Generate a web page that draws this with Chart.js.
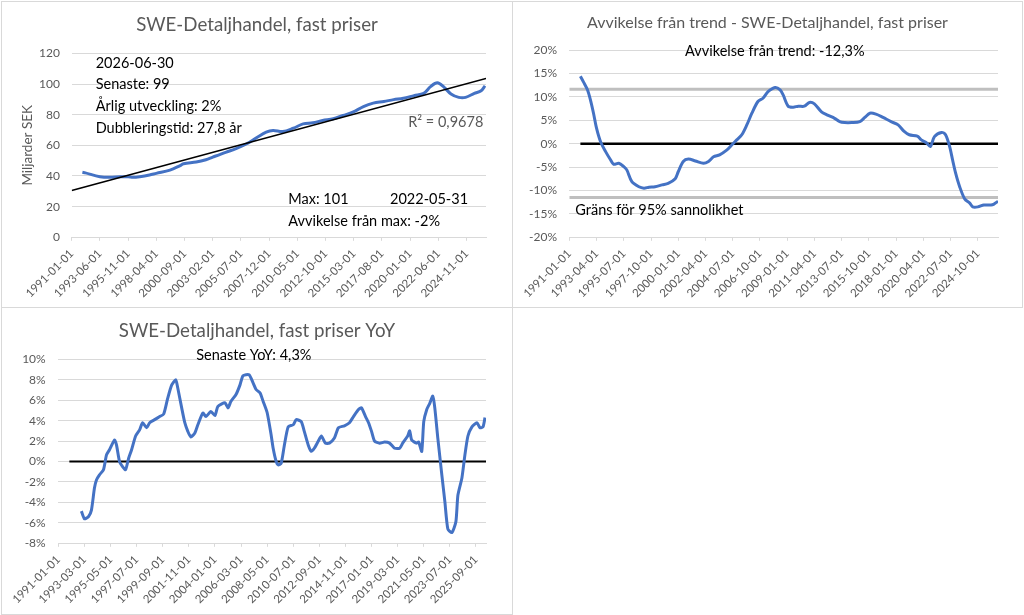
<!DOCTYPE html>
<html>
<head>
<meta charset="utf-8">
<title>SWE-Detaljhandel, fast priser</title>
<script src="https://cdn.jsdelivr.net/npm/chart.js@4.4.1/dist/chart.umd.min.js"></script>
<style>
  html, body { margin: 0; padding: 0; background: #fff; }
  body { width: 1024px; height: 615px; position: relative; overflow: hidden; }
  .box { position: absolute; border: 1px solid #d9d9d9; box-sizing: border-box; background: #fff; }
  .box canvas { display: block; }
</style>
</head>
<body>
<div class="box" style="left:1px;top:1px;width:512px;height:307px"><canvas id="levelChart" width="510" height="305"></canvas></div>
<div class="box" style="left:512px;top:1px;width:511px;height:307px"><canvas id="trendChart" width="509" height="305"></canvas></div>
<div class="box" style="left:1px;top:307px;width:512px;height:308px"><canvas id="yoyChart" width="510" height="306"></canvas></div>
<script>
// Level, Miljarder SEK
const levelDates = ['1991-12','1992-03','1993-06','1994-04','1995-03','1995-11','1996-04','1996-11',
  '1997-09','1998-04','1999-06','2000-04','2000-08','2001-09','2002-07','2003-02','2004-04','2005-02',
  '2006-01','2006-11','2007-09','2008-04','2009-02','2010-01','2010-11','2011-09','2012-07','2013-06',
  '2014-04','2015-02','2016-01','2016-11','2017-10','2018-08','2019-06','2020-05','2021-03','2021-10',
  '2022-05','2022-12','2023-07','2024-03','2024-10','2025-07','2026-02','2026-06'];
const levelValues = [42.4, 42.0, 39.5, 39.1, 39.5, 39.5, 39.1, 39.5,
  40.6, 41.7, 43.8, 46.6, 48.0, 49.1, 50.6, 52.3, 55.6, 57.8,
  61.0, 64.9, 68.6, 69.7, 69.0, 71.2, 74.0, 74.7, 76.2, 77.3,
  79.5, 81.6, 85.3, 87.5, 88.6, 89.8, 90.7, 92.4, 93.9, 98.3,
  100.8, 97.8, 93.5, 91.3, 91.3, 93.9, 95.6, 98.8];
const trendDates = ['1991-01', '2026-07'];
const trendValues = [30.5, 103.6];

// Avvikelse från trend, %
const devDates = ['1991-12','1992-03','1992-07','1992-10','1993-01','1993-04','1993-08','1994-01',
  '1994-06','1994-09','1995-02','1995-07','1995-10','1996-03','1996-10','1997-03','1997-08','1998-02',
  '1998-09','1999-03','1999-10','2000-01','2000-06','2000-11','2001-06','2002-02','2002-07','2002-12',
  '2003-06','2004-01','2004-06','2004-11','2005-04','2005-09','2006-02','2006-08','2007-01','2007-06',
  '2008-01','2008-06','2008-09','2009-02','2009-07','2009-12','2010-06','2010-11','2011-04','2011-11',
  '2012-05','2012-12','2013-05','2013-10','2014-05','2015-01','2015-06','2015-11','2016-05','2016-12',
  '2017-08','2018-03','2018-09','2019-02','2019-10','2020-02','2020-07','2020-11','2021-03','2021-10',
  '2022-02','2022-06','2022-09','2022-12','2023-04','2023-09','2024-02','2024-05','2024-10','2025-04',
  '2025-11','2026-02','2026-06'];
const devValues = [14.4, 13.2, 11.5, 9.3, 6.5, 3.3, 0.4, -1.7,
  -3.5, -4.4, -4.2, -4.9, -5.6, -8.1, -9.2, -9.5, -9.3, -9.2,
  -8.8, -8.5, -7.5, -6.0, -3.8, -3.3, -3.7, -4.2, -3.8, -2.8,
  -2.4, -1.4, -0.3, 0.8, 1.9, 4.0, 6.5, 9.0, 9.7, 11.1,
  12.0, 11.5, 10.4, 8.0, 7.8, 8.0, 8.0, 8.8, 8.5, 6.8,
  6.1, 5.4, 4.7, 4.5, 4.5, 4.7, 5.6, 6.5, 6.3, 5.6,
  4.7, 4.0, 2.6, 1.9, 1.6, 0.8, 0.2, -0.6, 1.5, 2.4,
  1.9, -0.6, -3.5, -6.3, -9.2, -11.8, -12.7, -13.5, -13.5, -13.1,
  -13.1, -12.9, -12.3];
const limitDates = ['1991-01', '2026-07'];
const limitUpper = 11.6;
const limitLower = -11.5;
const zeroDates = ['1991-12', '2026-07'];

// YoY, %
const yoyDates = ['1992-12','1993-03','1993-07','1993-10','1994-01','1994-03','1994-06','1994-10',
  '1995-01','1995-04','1995-09','1995-11','1996-02','1996-05','1996-08','1996-11',
  '1997-02','1997-06','1997-10','1998-01','1998-05','1998-08','1999-01','1999-06',
  '1999-10','2000-02','2000-06','2000-10','2000-12','2001-04','2001-07','2001-10',
  '2002-01','2002-05','2002-08','2003-01','2003-04','2003-09','2004-01','2004-04',
  '2004-11','2005-02','2005-05','2005-10','2006-02','2006-05','2006-11','2007-03',
  '2007-06','2007-10','2008-01','2008-05','2008-09','2008-11','2009-02','2009-04',
  '2009-07','2009-10','2010-02','2010-07','2010-10','2011-03','2011-06','2011-10',
  '2012-01','2012-04','2012-08','2012-11','2013-03','2013-07','2013-12','2014-04',
  '2014-10','2015-03','2015-07','2015-12','2016-03','2016-07','2016-10','2017-01',
  '2017-04','2017-09','2018-02','2018-07','2018-12','2019-05','2019-08','2020-01',
  '2020-03','2020-05','2020-10','2020-12','2021-03','2021-05','2021-08','2021-11',
  '2022-02','2022-04','2022-07','2022-11','2023-02','2023-05','2023-09','2024-01',
  '2024-03','2024-07','2024-10','2025-01','2025-05','2025-10','2026-01','2026-04',
  '2026-06'];
const yoyValues = [-4.85, -5.6, -5.4, -4.75, -2.6, -1.8, -1.3, -0.8,
  0.65, 1.15, 2.1, 1.6, 0.0, -0.5, -0.8, 0.3,
  1.15, 2.5, 3.1, 3.8, 3.3, 3.8, 4.1, 4.4,
  4.65, 6.2, 7.5, 8.0, 7.2, 5.2, 3.8, 2.95,
  2.4, 2.8, 3.6, 4.75, 4.4, 4.9, 4.5, 5.4,
  5.75, 5.25, 5.9, 6.55, 7.5, 8.4, 8.5, 7.7,
  7.05, 6.7, 5.9, 4.8, 2.6, 1.3, 0.0, -0.33,
  -0.16, 1.5, 3.4, 3.6, 4.1, 3.9, 2.95, 1.6,
  1.0, 1.3, 2.0, 2.5, 1.8, 1.8, 2.3, 3.3,
  3.5, 3.8, 4.4, 5.1, 5.25, 4.4, 3.8, 2.95,
  2.0, 1.8, 1.9, 1.8, 1.3, 1.3, 1.8, 2.5,
  3.0, 2.1, 1.8, 1.9, 1.0, 3.9, 5.1, 5.7,
  6.4, 5.25, 2.3, -1.3, -3.9, -6.6, -6.95, -5.9,
  -3.3, -1.6, 0.65, 2.5, 3.4, 3.8, 3.3, 3.4,
  4.3];

// x-axis tick labels
const levelTicks = ['1991-01-01','1993-06-01','1995-11-01','1998-04-01','2000-09-01','2003-02-01',
  '2005-07-01','2007-12-01','2010-05-01','2012-10-01','2015-03-01','2017-08-01','2020-01-01',
  '2022-06-01','2024-11-01'];
const devTicks = ['1991-01-01','1993-04-01','1995-07-01','1997-10-01','2000-01-01','2002-04-01',
  '2004-07-01','2006-10-01','2009-01-01','2011-04-01','2013-07-01','2015-10-01','2018-01-01',
  '2020-04-01','2022-07-01','2024-10-01'];
const yoyTicks = ['1991-01-01','1993-03-01','1995-05-01','1997-07-01','1999-09-01','2001-11-01',
  '2004-01-01','2006-03-01','2008-05-01','2010-07-01','2012-09-01','2014-11-01','2017-01-01',
  '2019-03-01','2021-05-01','2023-07-01','2025-09-01'];

const BLUE = '#4472C4';
const GRID = '#d9d9d9';
const LABEL = '#595959';

Chart.defaults.font.family = 'Lato, "Noto Sans", sans-serif';
Chart.defaults.color = LABEL;

// months counted from 1991-01
function monthIndex(s) {
  const [y, m] = s.split('-').map(Number);
  return (y - 1991) * 12 + m - 1;
}
const toPoints = (dates, values) => dates.map((d, i) => ({ x: monthIndex(d), y: values[i] }));

// draws the free text boxes that sit on the charts
const notesPlugin = {
  id: 'notes',
  afterDatasetsDraw(chart, args, opts) {
    const ctx = chart.ctx;
    ctx.save();
    ctx.textBaseline = 'middle';
    (opts.items || []).forEach(n => {
      ctx.font = (n.size || 14.5) + 'px ' + Chart.defaults.font.family;
      ctx.fillStyle = n.color || '#000';
      ctx.textAlign = n.align || 'left';
      ctx.fillText(n.text, n.x, n.y);
    });
    ctx.restore();
  }
};

// rightGap is kept as scale padding so the title still centres on the whole box
function dateAxis(tickLabels, max, height, rightGap) {
  const byIndex = {};
  tickLabels.forEach(t => { byIndex[monthIndex(t)] = t; });
  return {
    type: 'linear', min: 0, max: max,
    afterBuildTicks: s => { s.ticks = tickLabels.map(t => ({ value: monthIndex(t) })); },
    afterFit: s => { s.height = height; s.paddingLeft = 0; s.paddingRight = rightGap; },
    grid: { drawOnChartArea: false, drawTicks: true, tickLength: 3.5, color: GRID },
    border: { color: GRID },
    ticks: { autoSkip: false, minRotation: 45, maxRotation: 45, padding: 6,
      color: LABEL, font: { size: 11.5 }, callback: v => byIndex[v] || '' }
  };
}

function valueAxis(min, max, step, width, pad, fmt) {
  return {
    min: min, max: max,
    afterFit: s => { s.width = width; },
    grid: { color: GRID, drawTicks: false },
    border: { display: false },
    ticks: { stepSize: step, padding: pad, color: LABEL, font: { size: 12 }, callback: fmt }
  };
}

function titleOpts(text, size, top, bottom) {
  return { display: true, text: text, color: LABEL,
    font: { size: size, weight: 'normal' }, padding: { top: top, bottom: bottom } };
}

const base = { responsive: false, animation: false, devicePixelRatio: 1,
  layout: { padding: 0 } };
const pct = v => v + '%';

// Chart 1: level with linear trend
const yLevel = valueAxis(0, 120, 20, 69.7, 11.7, v => v);
yLevel.title = { display: true, text: 'Miljarder SEK', color: LABEL, font: { size: 13.5 }, padding: { top: 17.6, bottom: 0 } };
new Chart(document.getElementById('levelChart'), {
  type: 'line',
  data: { datasets: [
    { data: toPoints(trendDates, trendValues), borderColor: '#000', borderWidth: 1.6, pointRadius: 0 },
    { data: toPoints(levelDates, levelValues), borderColor: BLUE, borderWidth: 3, pointRadius: 0, tension: 0.35 }
  ] },
  options: Object.assign({}, base, {
    plugins: {
      legend: { display: false }, tooltip: { enabled: false },
      title: titleOpts('SWE-Detaljhandel, fast priser', 18.7, 11.8, 17.1),
      notes: { items: [
        { text: '2026-06-30', x: 93.7, y: 61.3 },
        { text: 'Senaste: 99', x: 93.7, y: 82.5 },
        { text: 'Årlig utveckling: 2%', x: 93.7, y: 104 },
        { text: 'Dubbleringstid: 27,8 år', x: 93.7, y: 126 },
        { text: 'R² = 0,9678', x: 481.3, y: 120.3, align: 'right', color: LABEL },
        { text: 'Max: 101', x: 286.3, y: 197.3 },
        { text: '2022-05-31', x: 388, y: 197.3 },
        { text: 'Avvikelse från max: -2%', x: 286.3, y: 219.7 }
      ] }
    },
    scales: { x: dateAxis(levelTicks, 426, 69.7, 26), y: yLevel }
  }),
  plugins: [notesPlugin]
});

// Chart 2: deviation from trend
new Chart(document.getElementById('trendChart'), {
  type: 'line',
  data: { datasets: [
    { data: toPoints(devDates, devValues), borderColor: BLUE, borderWidth: 3, pointRadius: 0, tension: 0.3 },
    { data: toPoints(zeroDates, [0, 0]), borderColor: '#000', borderWidth: 2.5, pointRadius: 0 },
    { data: toPoints(limitDates, [limitUpper, limitUpper]), borderColor: '#bfbfbf', borderWidth: 3, pointRadius: 0 },
    { data: toPoints(limitDates, [limitLower, limitLower]), borderColor: '#bfbfbf', borderWidth: 3, pointRadius: 0 }
  ] },
  options: Object.assign({}, base, {
    plugins: {
      legend: { display: false }, tooltip: { enabled: false },
      title: titleOpts('Avvikelse från trend - SWE-Detaljhandel, fast priser', 16, 11.1, 17.7),
      notes: { items: [
        { text: 'Avvikelse från trend: -12,3%', x: 261.8, y: 49.7, align: 'center' },
        { text: 'Gräns för 95% sannolikhet', x: 62.3, y: 208.7 }
      ] }
    },
    scales: { x: dateAxis(devTicks, 425, 69.7, 24), y: valueAxis(-20, 20, 5, 56.3, 12.3, pct) }
  }),
  plugins: [notesPlugin]
});

// Chart 3: year over year
new Chart(document.getElementById('yoyChart'), {
  type: 'line',
  data: { datasets: [
    { data: toPoints(yoyDates, yoyValues), borderColor: BLUE, borderWidth: 3, pointRadius: 0, tension: 0.2 },
    { data: toPoints(zeroDates, [0, 0]), borderColor: '#000', borderWidth: 2, pointRadius: 0 }
  ] },
  options: Object.assign({}, base, {
    plugins: {
      legend: { display: false }, tooltip: { enabled: false },
      title: titleOpts('SWE-Detaljhandel, fast priser YoY', 18.7, 11.8, 17.1),
      notes: { items: [
        { text: 'Senaste YoY: 4,3%', x: 251.8, y: 47.7, align: 'center' }
      ] }
    },
    scales: { x: dateAxis(yoyTicks, 426, 70.7, 26), y: valueAxis(-8, 10, 2, 56.3, 12.6, pct) }
  }),
  plugins: [notesPlugin]
});
</script>
</body>
</html>
